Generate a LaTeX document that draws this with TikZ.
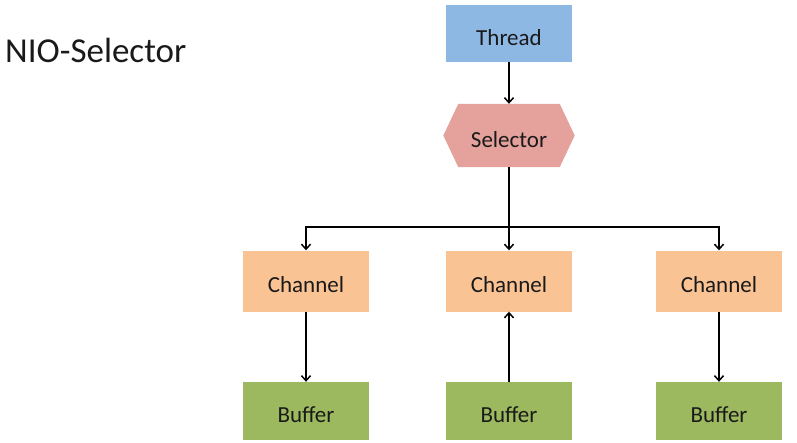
\documentclass[tikz,border=0pt]{standalone}
\usepackage{fontspec}
\setmainfont{Carlito}
\usetikzlibrary{arrows.meta,calc}
\pgfdeclarelayer{background}
\pgfsetlayers{background,main}
\definecolor{threadc}{HTML}{8DB8E3}
\definecolor{selc}{HTML}{E5A29D}
\definecolor{chanc}{HTML}{FAC394}
\definecolor{bufc}{HTML}{9DB95F}
\definecolor{txt}{HTML}{1A1A1A}
\newcommand\lowlbl[1]{\raisebox{-4pt}[\height][\depth]{#1}}
\tikzset{
  box/.style={minimum width=126pt, inner sep=0pt, font=\fontsize{23}{26}\selectfont, text=txt},
  threadbox/.style={box, fill=threadc, minimum height=57pt},
  chanbox/.style={box, fill=chanc, minimum height=61pt},
  bufbox/.style={box, fill=bufc, minimum height=58pt},
  selbox/.style={box, minimum width=131pt, minimum height=63pt},
  arr/.style={line width=1.6pt, draw=black, -{Straight Barb[length=5pt,width=9pt,line width=1.5pt]}},
  title/.style={font=\fontsize{35}{40}\selectfont, text=txt, inner sep=0pt, anchor=west}
}
\begin{document}
\begin{tikzpicture}[x=1pt,y=-1pt]
\useasboundingbox (0,0) rectangle (797,442);
\node[title] (ttl) at (5,50) {NIO-Selector};
\node[threadbox] (thread) at (509,33.5) {\lowlbl{Thread}};
\node[selbox] (sel) at (509,135.5) {\lowlbl{Selector}};
\begin{pgfonlayer}{background}
\fill[white] (0,0) rectangle (797,442);
\fill[selc] (sel.west) -- ($(sel.north west)+(15,0)$) -- ($(sel.north east)+(-15,0)$) -- (sel.east) -- ($(sel.south east)+(-15,0)$) -- ($(sel.south west)+(15,0)$) -- cycle;
\end{pgfonlayer}
\node[chanbox] (ch1) at (306,281) {\lowlbl{Channel}};
\node[chanbox] (ch2) at (509,281) {\lowlbl{Channel}};
\node[chanbox] (ch3) at (719,281) {\lowlbl{Channel}};
\node[bufbox] (bf1) at (306,411) {\lowlbl{Buffer}};
\node[bufbox] (bf2) at (509,411) {\lowlbl{Buffer}};
\node[bufbox] (bf3) at (719,411) {\lowlbl{Buffer}};
\coordinate (j) at (509,227);
\draw[arr] (thread.south) -- (sel.north);
\draw[line width=1.6pt] (sel.south) -- (j);
\draw[arr] (j) -| (ch1.north);
\draw[arr] (j) -| (ch3.north);
\draw[arr] (j) -- (ch2.north);
\draw[arr] (ch1.south) -- (bf1.north);
\draw[arr] (bf2.north) -- (ch2.south);
\draw[arr] (ch3.south) -- (bf3.north);
\end{tikzpicture}
\end{document}
